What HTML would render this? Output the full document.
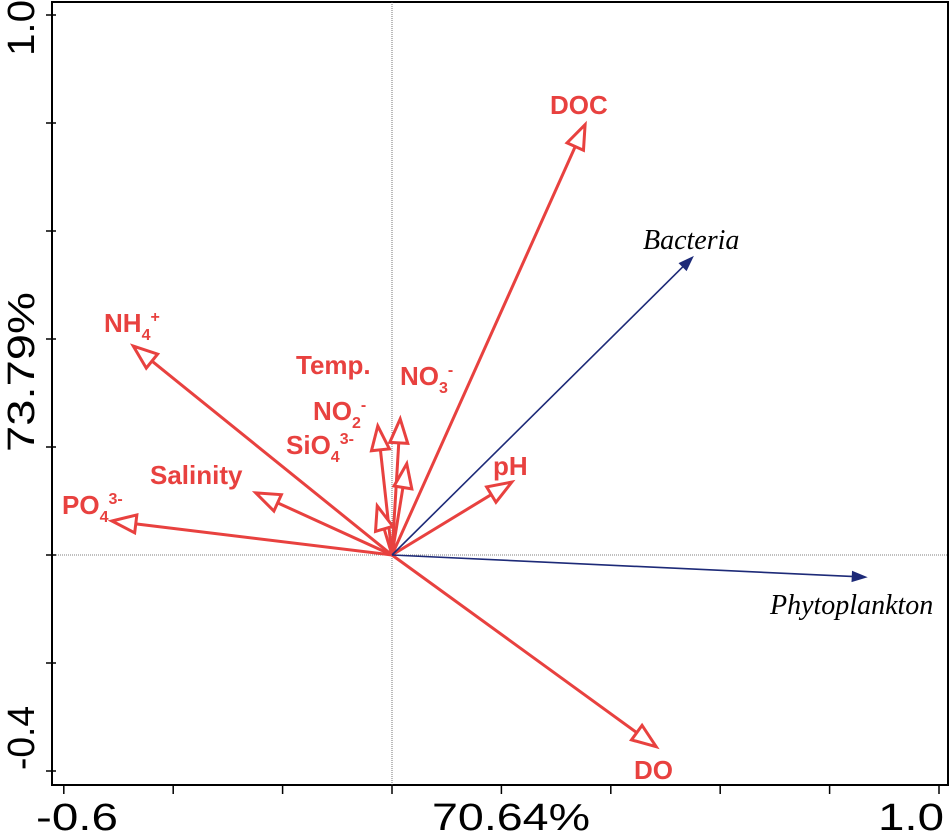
<!DOCTYPE html>
<html><head><meta charset="utf-8"><style>
html,body{margin:0;padding:0;background:#fff;}
svg{display:block;}
</style></head><body>
<svg id="chart" width="952" height="836" xmlns="http://www.w3.org/2000/svg">
<g id="frame"></g>
<g id="vectors"></g>
<g id="labels"></g>
</svg>
<script>
const envNames = ["DOC","NH4","PO4","Salinity","Temp","NO3","NO2","SiO4","pH","DO"];
const envX = [0.353,-0.473,-0.512,-0.249,-0.026,0.015,0.027,-0.027,0.219,0.483];
const envY = [0.797,0.387,0.063,0.115,0.239,0.252,0.169,0.091,0.135,-0.355];
const bioNames = ["Bacteria","Phytoplankton"];
const bioX = [0.550,0.867];
const bioY = [0.552,-0.041];
const xTicks = [-0.6,-0.4,-0.2,0,0.2,0.4,0.6,0.8,1.0];
const yTicks = [-0.4,-0.2,0,0.2,0.4,0.6,0.8,1.0];

const NS="http://www.w3.org/2000/svg";
const X0=392, Y0=555, SX=547, SY=540;
const sx=v=>X0+v*SX, sy=v=>Y0-v*SY;
const RED="#e8413f", BLUE="#1d2a78";
function mk(tag,attrs,parent){const e=document.createElementNS(NS,tag);for(const k in attrs)e.setAttribute(k,attrs[k]);parent.appendChild(e);return e;}
const frame=document.getElementById('frame');
const L=52,R=948,T=2,B=785;
let e;
e=mk('rect',{x:L,y:T,width:R-L,height:B-T,fill:'none',stroke:'#000','stroke-width':2},frame);


e=mk('line',{x1:L,x2:R,y1:sy(0),y2:sy(0),stroke:'#555','stroke-width':0.8,'stroke-dasharray':'1,1'},frame);


e=mk('line',{x1:sx(0),x2:sx(0),y1:T,y2:B,stroke:'#555','stroke-width':0.8,'stroke-dasharray':'1,1'},frame);


xTicks.forEach(t=>{e=mk('line',{x1:sx(t),x2:sx(t),y1:B,y2:B+9,stroke:'#000','stroke-width':1.5},frame);

});
yTicks.forEach(t=>{e=mk('line',{x1:L-6,x2:L+4,y1:sy(t),y2:sy(t),stroke:'#000','stroke-width':1.5},frame);

});
const af='font-family:"Liberation Sans",sans-serif;font-size:38px;';
function ht(txt,x,w,name){const t=mk('text',{x:x,y:830,'textLength':w,'lengthAdjust':'spacingAndGlyphs',style:af},frame);t.textContent=txt;

}
ht('-0.6',36,82,'x-min-label');
ht('1.0',878,66,'x-max-label');
ht('70.64%',432,158,'x-axis-title');
function vt(txt,yc,w,name){const t=mk('text',{x:0,y:0,'text-anchor':'middle','textLength':w,'lengthAdjust':'spacingAndGlyphs',transform:`translate(34,${yc}) rotate(-90)`,style:af},frame);t.textContent=txt;

}
vt('1.0',28,56,'y-max-label');
vt('-0.4',738,64,'y-min-label');
vt('73.79%',372,160,'y-axis-title');

const vg=document.getElementById('vectors');
function arrow(x,y,color,open,name){
  const x2=sx(x),y2=sy(y);const dx=x2-X0,dy=y2-Y0;const len=Math.hypot(dx,dy);const ux=dx/len,uy=dy/len;
  const hl=open?24:14, hw=open?9:5;
  const bx=x2-ux*hl,by=y2-uy*hl;
  const g=mk('g',{},vg);
  
  
  mk('line',{x1:X0,y1:Y0,x2:open?bx:bx+ux*2,y2:open?by:by+uy*2,stroke:color,'stroke-width':open?3:1.6},g);
  const pts=`${x2},${y2} ${bx-uy*hw},${by+ux*hw} ${bx+uy*hw},${by-ux*hw}`;
  mk('polygon',{points:pts,fill:open?'#fff':color,stroke:color,'stroke-width':open?3:1,'stroke-linejoin':'miter'},g);
}
envNames.forEach((n,i)=>arrow(envX[i],envY[i],RED,true,'arrow-'+n.toLowerCase()));
bioNames.forEach((n,i)=>arrow(bioX[i],bioY[i],BLUE,false,'arrow-'+n.toLowerCase()));
</script>
<svg width="952" height="836" style="position:absolute;left:0;top:0" xmlns="http://www.w3.org/2000/svg">
<g font-family="'Liberation Sans',sans-serif" font-weight="bold" font-size="26" fill="#e8413f">
<text x="550" y="114">DOC</text>
<text x="104" y="332">NH<tspan font-size="16" dy="8">4</tspan><tspan font-size="16" dy="-18">+</tspan></text>
<text x="62" y="514">PO<tspan font-size="16" dy="8">4</tspan><tspan font-size="16" dy="-18">3-</tspan></text>
<text x="150" y="484">Salinity</text>
<text x="296" y="374">Temp.</text>
<text x="313" y="420">NO<tspan font-size="16" dy="8">2</tspan><tspan font-size="16" dy="-18">-</tspan></text>
<text x="286" y="454">SiO<tspan font-size="16" dy="8">4</tspan><tspan font-size="16" dy="-18">3-</tspan></text>
<text x="400" y="385">NO<tspan font-size="16" dy="8">3</tspan><tspan font-size="16" dy="-18">-</tspan></text>
<text x="493" y="475">pH</text>
<text x="634" y="779">DO</text>
</g>
<g font-family="'Liberation Serif',serif" font-style="italic" font-size="28" fill="#000">
<text x="643" y="249">Bacteria</text>
<text x="770" y="614">Phytoplankton</text>
</g>
</svg>
</body></html>
